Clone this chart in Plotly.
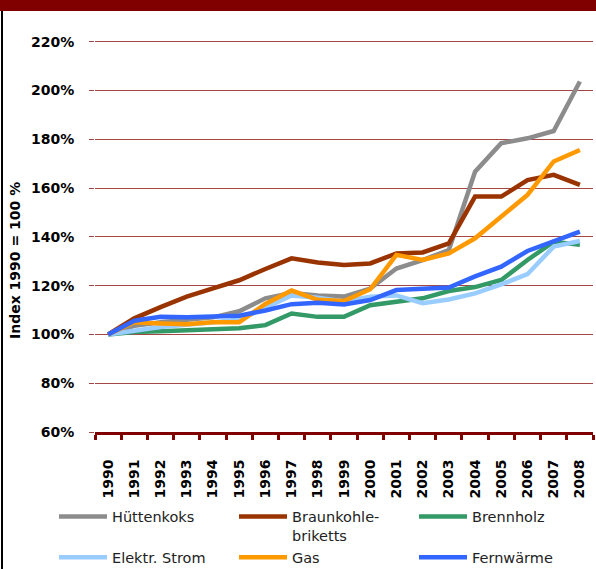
import plotly.graph_objects as go

years = [str(y) for y in range(1990, 2009)]
series_names = ["Hüttenkoks", "Braunkohle-<br>briketts", "Brennholz", "Elektr. Strom", "Gas", "Fernwärme"]
huettenkoks = [100, 103.5, 105, 106, 107, 109.5, 114.8, 117, 116, 115.5, 118.8, 127, 130.5, 134.6, 166.7, 178.4, 180.4, 183.4, 203.7]
braunkohle = [100, 106.6, 111.2, 115.5, 118.9, 122.2, 126.8, 131.2, 129.5, 128.5, 129.1, 133.2, 133.6, 137.3, 156.5, 156.5, 163.3, 165.4, 161.3]
brennholz = [100, 101, 101.3, 101.8, 102, 102.5, 103.8, 108.6, 107.2, 107.2, 112, 113.6, 114.8, 117.8, 119.4, 122.3, 130.5, 138, 136.8]
strom = [100, 101.5, 103, 104, 105, 106, 111, 116, 115, 113.5, 115.5, 116, 112.8, 114.3, 116.8, 120.5, 124.7, 136, 138.3]
gas = [100, 105, 104.5, 104.2, 105, 105, 112.5, 118, 114.2, 113.7, 118.5, 132.6, 130.5, 133.2, 139.4, 148.3, 157.2, 170.9, 175.6]
fernwaerme = [100, 105.6, 107.2, 107, 107.3, 107.7, 109.8, 112.4, 113, 112.3, 114.1, 118.2, 118.7, 119.2, 123.8, 127.8, 134.2, 138.3, 142.1]
y_ticks = [60, 80, 100, 120, 140, 160, 180, 200, 220]
y_ticklabels = [f"{v}%" for v in y_ticks]

colors = ["#8c8c8c", "#993300", "#339966", "#99ccff", "#ff9900", "#3366ff"]
all_values = [huettenkoks, braunkohle, brennholz, strom, gas, fernwaerme]

fig = go.Figure()
for name, vals, col in zip(series_names, all_values, colors):
    fig.add_trace(go.Scatter(x=years, y=vals, name=name, mode="lines",
                             line=dict(color=col, width=4.5)))

W, H = 596, 569
L, R, T, B = 95, 3, 40, 137
pw = W - L - R
ph = H - T - B

def px_x(p):
    return (p - L) / pw

def px_y(p):
    return (H - B - p) / ph

grid_col = "rgb(165,70,70)"

fig.update_layout(
    width=W, height=H,
    margin=dict(l=L, r=R, t=T, b=B, pad=0, autoexpand=False),
    paper_bgcolor="white", plot_bgcolor="white",
    font=dict(family="DejaVu Sans", color="black"),
    showlegend=True,
    legend=dict(orientation="h", x=px_x(54), y=px_y(500.5), xanchor="left", yanchor="top",
                entrywidth=117, entrywidthmode="pixels", valign="top",
                font=dict(size=14.5, family="DejaVu Sans", color="#222"),
                itemwidth=48, tracegroupgap=0, bgcolor="rgba(0,0,0,0)"),
    xaxis=dict(type="category", showgrid=False, showline=True, linecolor="#800000", linewidth=3,
               ticks="outside", tickson="boundaries", ticklen=5, tickwidth=3, tickcolor="#800000",
               tickangle=-90, ticklabelstandoff=19, automargin=False,
               tickfont=dict(size=14, family="DejaVu Sans", color="black", weight="bold"),
               range=[-0.5, 18.5], fixedrange=True),
    yaxis=dict(range=[60, 220.7], tickvals=y_ticks, ticktext=y_ticklabels, automargin=False,
               showgrid=True, gridcolor=grid_col, gridwidth=1, zeroline=False, showline=False,
               ticks="outside", ticklen=5, tickcolor=grid_col, tickwidth=1, ticklabelstandoff=12,
               tickfont=dict(size=14, family="DejaVu Sans", color="black", weight="bold")),
    shapes=[
        dict(type="rect", xref="paper", yref="paper", x0=px_x(0), x1=px_x(W), y0=px_y(11), y1=px_y(-2),
             fillcolor="#800000", line=dict(width=0), layer="above"),
        dict(type="line", xref="paper", yref="paper", x0=px_x(2), x1=px_x(2), y0=px_y(11), y1=px_y(H + 2),
             line=dict(color="black", width=2)),
    ],
    annotations=[
        dict(text="<b>Index 1990 = 100 %</b>", xref="paper", yref="paper", x=px_x(15), y=px_y(261),
             xanchor="center", yanchor="middle", textangle=-90, showarrow=False,
             font=dict(size=14, family="DejaVu Sans", color="black")),
    ],
)

fig.write_html("out.html", config={"displayModeBar": False},
               post_script="document.body.style.margin='0';document.body.style.overflow='hidden';")
